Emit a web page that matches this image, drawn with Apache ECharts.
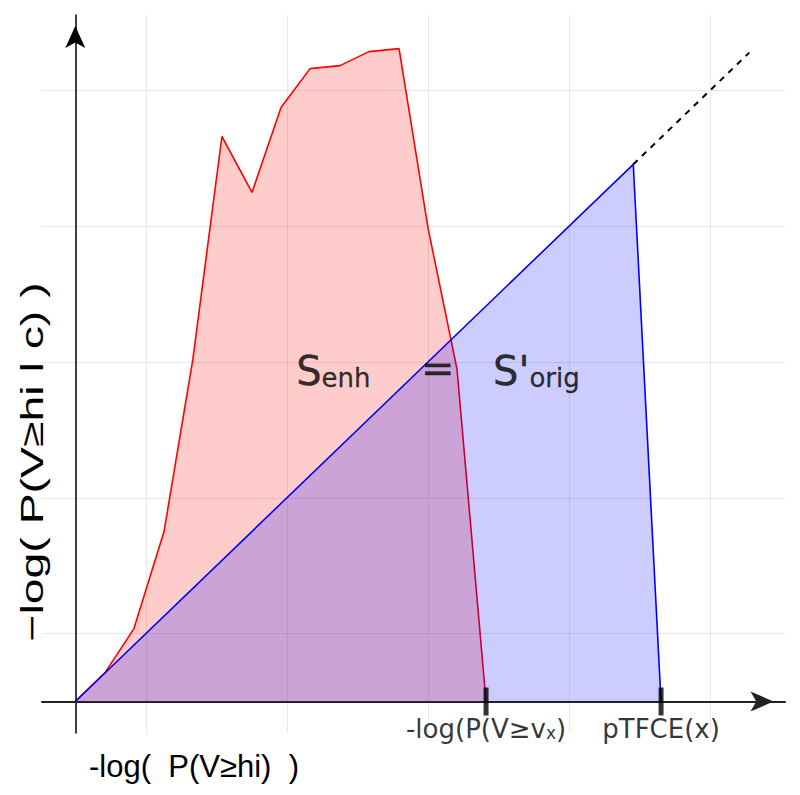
<!DOCTYPE html>
<html><head><meta charset="utf-8">
<script src="https://cdn.jsdelivr.net/npm/echarts@6/dist/echarts.min.js"></script>
<style>html,body{margin:0;padding:0;background:#fff}#c{width:800px;height:795px}</style>
</head><body><div id="c"></div>
<script>
// ---- data (in axis units) ----
const enhX = [0, 0.211, 0.416, 0.629, 0.834, 1.040, 1.253, 1.459, 1.665, 1.877, 2.083, 2.296, 2.502, 2.707, 2.913];
const enhY = [0, 0.213, 0.537, 1.250, 2.522, 4.162, 3.750, 4.375, 4.662, 4.684, 4.787, 4.809, 3.485, 2.449, 0];
const origX = [0, 3.957, 4.154];
const origY = [0, 3.957, 0];
const extX = [3.957, 4.78];
const extY = [3.957, 4.78];
const gridX = [0.5, 1.5, 2.5, 3.5, 4.5];
const gridY = [0.5, 1.5, 2.5, 3.5, 4.5];
const tickX = [2.913, 4.154];
const tickLabels = ['{n|-log(P(V\u2265v}{sub|x}{n|)}', '{n|pTFCE(x)}'];
const annoX = [1.83, 2.57, 3.27];
const annoY = [2.46, 2.48, 2.46];
const annoText = ['{b|S}{s|enh}', '{b|=}', "{b|S'}{s|orig}"];
const xName = '{t|-log(  P(V\u2265h}{i|i}{t|)  )}';
const yName = '{t|\u2212log( P(V\u2265h}{i|i}{t| l c) )}';

const zip = (a, b) => a.map((v, i) => [v, b[i]]);

const chart = echarts.init(document.getElementById('c'), null, {renderer: 'svg'});
const DJ = 'DejaVu Sans';
const LS = 'Liberation Sans';

chart.setOption({
  animation: false,
  backgroundColor: '#fff',
  textStyle: {color: '#000'},
  grid: {left: 42, right: 15, top: 15, bottom: 62, containLabel: false},
  xAxis: {
    type: 'value', min: -0.236, max: 5.033,
    axisLine: {show: true, onZero: true, symbol: ['none', 'arrow'], symbolSize: [15, 23], symbolOffset: [0, -11.5],
      lineStyle: {color: '#222', width: 2}},
    axisTick: {show: false}, axisLabel: {show: false}, splitLine: {show: false}
  },
  yAxis: {
    type: 'value', min: -0.232, max: 5.057,
    axisLine: {show: true, onZero: true, symbol: ['none', 'arrow'], symbolSize: [15, 22], symbolOffset: [0, -11],
      lineStyle: {color: '#000', width: 1.5}},
    axisTick: {show: false}, axisLabel: {show: false}, splitLine: {show: false}
  },
  series: [
    {
      type: 'line', data: [], z: 0, silent: true,
      markLine: {
        z: 0, silent: true, symbol: 'none', label: {show: false}, animation: false,
        lineStyle: {color: '#e8e8e8', width: 1, type: 'solid'},
        data: gridX.map(v => ({xAxis: v})).concat(gridY.map(v => ({yAxis: v})))
      }
    },
    {
      name: 'enh', type: 'line', data: zip(enhX, enhY), showSymbol: false, z: 2,
      lineStyle: {color: '#ff0000', width: 1.6},
      areaStyle: {color: '#ff0000', opacity: 0.2, origin: 0}
    },
    {
      name: 'orig', type: 'line', data: zip(origX, origY), showSymbol: false, z: 3,
      lineStyle: {color: '#0000ff', width: 1.6},
      areaStyle: {color: '#0000ff', opacity: 0.2, origin: 0}
    },
    {
      name: 'ext', type: 'line', data: zip(extX, extY), showSymbol: false, z: 3,
      lineStyle: {color: '#000', width: 2, type: [6, 6]}
    },
    {
      name: 'ticks', type: 'scatter', z: 5, silent: true,
      data: tickX.map(v => [v, 0]),
      symbol: 'rect', symbolSize: [5, 28],
      itemStyle: {color: '#000'},
      label: {
        show: true, position: 'bottom', distance: 0, color: '#000',
        formatter: p => tickLabels[p.dataIndex],
        rich: {
          n: {fontFamily: DJ, fontSize: 26, color: '#000', lineHeight: 26, verticalAlign: 'bottom'},
          sub: {fontFamily: DJ, fontSize: 17, color: '#000', lineHeight: 11, verticalAlign: 'bottom'}
        }
      }
    },
    {
      name: 'anno', type: 'scatter', z: 6, silent: true,
      data: zip(annoX, annoY), symbolSize: 0,
      label: {
        show: true, position: 'inside', color: '#000',
        formatter: p => annoText[p.dataIndex],
        rich: {
          b: {fontFamily: DJ, fontSize: 40, color: '#000', lineHeight: 46, verticalAlign: 'bottom', textBorderColor: '#000', textBorderWidth: 0.4},
          s: {fontFamily: DJ, fontSize: 26, color: '#000', lineHeight: 22, verticalAlign: 'bottom', textBorderColor: '#000', textBorderWidth: 0.3}
        }
      }
    }
  ],
  graphic: [
    {
      type: 'text', x: 194, y: 764, silent: true,
      style: {
        text: xName, align: 'center', verticalAlign: 'middle',
        rich: {
          t: {fontFamily: LS, fontSize: 31, fill: '#000', lineHeight: 36, verticalAlign: 'bottom'},
          i: {fontFamily: LS, fontSize: 31, fill: '#000', lineHeight: 29, verticalAlign: 'bottom'}
        }
      }
    },
    {
      type: 'text', x: 30, y: 462, rotation: Math.PI / 2, scaleX: 1.45, scaleY: 1, silent: true,
      style: {
        text: yName, align: 'center', verticalAlign: 'middle',
        rich: {
          t: {fontFamily: LS, fontSize: 32, fill: '#000', lineHeight: 36, verticalAlign: 'bottom'},
          i: {fontFamily: LS, fontSize: 32, fill: '#000', lineHeight: 30, verticalAlign: 'bottom'}
        }
      }
    }
  ]
});
</script></body></html>
